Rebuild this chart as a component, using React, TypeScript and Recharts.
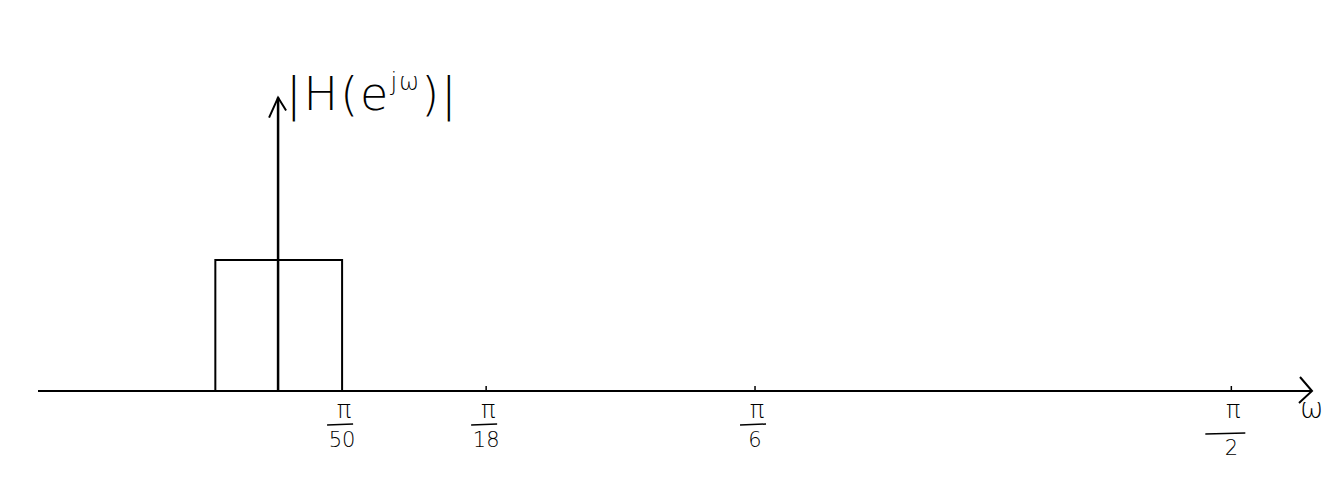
import React from "react";
import { LineChart, Line, XAxis, YAxis, ReferenceLine } from "recharts";

// sketch units: rectangle half-width = 1 unit (the cutoff pi/50)
const rectX = [-0.98, -0.98, 1, 1];
const rectMag = [0, 1, 1, 0];
const tickValues = [1, 3.25, 7.45, 14.89];
const tickDenoms = ["50", "18", "6", "2"];
const axisTop = 2.24;

const data = rectX.map((x, i) => ({ x, mag: rectMag[i] }));

const ink = "#000";
const font = "'DejaVu Sans', sans-serif";

function FracTick(props: any) {
  const { x, payload } = props;
  const y0 = 391;
  const i = tickValues.indexOf(payload.value);
  const den = tickDenoms[i] ?? "";
  const last = i === tickValues.length - 1;
  return (
    <g>
      {i > 0 && <line x1={x} y1={y0 - 5} x2={x} y2={y0} stroke={ink} strokeWidth={1.5} />}
      <text x={x + 2} y={y0 + 27} textAnchor="middle" fontSize={24} fontWeight={200} fontFamily={font} fill={ink}>
        π
      </text>
      <line
        x1={x - (last ? 26 : 15)}
        y1={y0 + (last ? 43 : 34)}
        x2={x + (last ? 14 : 11)}
        y2={y0 + (last ? 42 : 33)}
        stroke={ink}
        strokeWidth={1.5}
      />
      <text x={x} y={y0 + (last ? 64 : 56)} textAnchor="middle" fontSize={21} fontWeight={200} fontFamily={font} fill={ink}>
        {den}
      </text>
    </g>
  );
}

function HorizArrow(props: any) {
  const { x1, y1, x2 } = props;
  return (
    <g>
      <line x1={x1} y1={y1} x2={x2} y2={y1} stroke={ink} strokeWidth={2} />
      <polyline
        points={`${x2 - 12},${y1 - 14} ${x2},${y1} ${x2 - 13},${y1 + 12}`}
        fill="none"
        stroke={ink}
        strokeWidth={2}
      />
      <text x={x2 - 12} y={y1 + 27} fontSize={28} fontWeight={200} fontFamily={font} fill={ink}>
        ω
      </text>
    </g>
  );
}

function VertArrow(props: any) {
  const { x1, y1, x2, y2 } = props;
  const top = Math.min(y1, y2);
  const bottom = Math.max(y1, y2);
  return (
    <g>
      <line x1={x1} y1={bottom} x2={x1} y2={top} stroke={ink} strokeWidth={2.5} />
      <polyline
        points={`${x1 - 9},${top + 20} ${x1},${top} ${x1 + 8},${top + 13}`}
        fill="none"
        stroke={ink}
        strokeWidth={2}
      />
      <text x={x1 + 8} y={top + 12} fontSize={46} fontWeight={200} fontFamily={font} fill={ink} letterSpacing={2}>
        |H(e
        <tspan fontSize={24} dy={-20}>jω</tspan>
        <tspan dy={20}>)|</tspan>
      </text>
    </g>
  );
}

export default function App() {
  return (
    <div style={{ position: "absolute", left: 0, top: 0, background: "#fff" }}>
      <LineChart
        width={1341}
        height={502}
        data={data}
        margin={{ top: 63.5, right: 29, bottom: 51, left: 38 }}
      >
        <XAxis
          dataKey="x"
          type="number"
          domain={[-3.75, 16.15]}
          allowDataOverflow
          ticks={tickValues}
          interval={0}
          axisLine={false}
          tickLine={false}
          tick={<FracTick />}
          height={60}
        />
        <YAxis hide type="number" domain={[0, 2.5]} allowDataOverflow />
        <ReferenceLine y={0} shape={<HorizArrow />} />
        <Line
          dataKey="mag"
          type="linear"
          stroke={ink}
          strokeWidth={2}
          dot={false}
          isAnimationActive={false}
        />
        <ReferenceLine
          segment={[
            { x: 0, y: 0 },
            { x: 0, y: axisTop },
          ]}
          shape={<VertArrow />}
        />
      </LineChart>
    </div>
  );
}
